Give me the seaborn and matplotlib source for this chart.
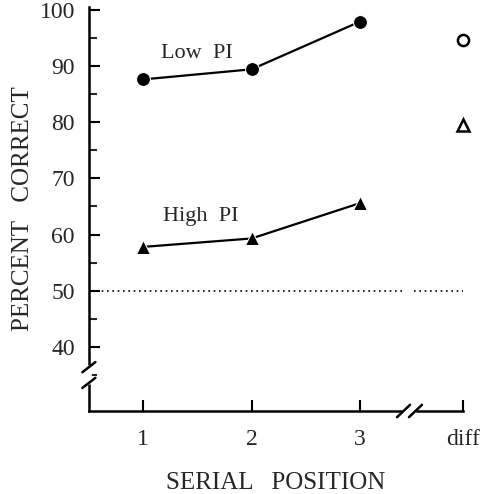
import pandas as pd
import seaborn as sns
import matplotlib.pyplot as plt

# values
positions = [1, 2, 3]
low_pi = [87.6, 89.4, 97.9]
high_pi = [57.8, 59.3, 65.6]
diff_x = 3.95
diff_low = 94.6
diff_high = 79.5
chance = 50
x_ticks = [1, 2, 3, diff_x]
x_labels = ["1", "2", "3", "diff"]
y_ticks = [40, 50, 60, 70, 80, 90, 100]

sns.set_style("ticks")
plt.rcParams['font.family'] = ['Liberation Serif', 'DejaVu Serif']

df = pd.DataFrame({"pos": positions * 2,
                   "pc": low_pi + high_pi,
                   "group": ["Low PI"] * 3 + ["High PI"] * 3})

fig = plt.figure(figsize=(4.83, 4.94), dpi=100)
ax = fig.add_axes([0.184, 0.168, 0.775, 0.818])

sns.lineplot(data=df[df.group == "Low PI"], x="pos", y="pc", color="black",
             marker="o", markersize=10, linewidth=1.6, ax=ax)
sns.lineplot(data=df[df.group == "High PI"], x="pos", y="pc", color="black",
             marker="^", markersize=10, linewidth=1.6, ax=ax)

# open symbols at "diff"
ax.plot([diff_x], [diff_low], marker="o", markersize=8, mfc="white",
        mec="black", mew=1.8, linestyle="none", clip_on=False)
ax.plot([diff_x], [diff_high], marker="^", markersize=8, mfc="white",
        mec="black", mew=1.8, linestyle="none", clip_on=False)

# chance line (broken at the axis break)
ax.plot([0.52, 3.4], [chance, chance], color="black", linestyle=(0, (1, 2.2)), linewidth=1.2)
ax.plot([3.5, diff_x], [chance, chance], color="black", linestyle=(0, (1, 2.2)), linewidth=1.2)

ax.text(1.5, 92.2, "Low  PI", fontsize=16, ha="center", va="center")
ax.text(1.53, 63.2, "High  PI", fontsize=16, ha="center", va="center")

ax.set_xlim(0.5, diff_x)
ax.set_ylim(28.6, 100.5)
ax.set_xticks(x_ticks)
ax.set_xticklabels(x_labels)
ax.set_yticks(y_ticks)
ax.set_yticks(range(35, 100, 5), minor=True)
ax.tick_params(axis="both", which="major", direction="in", length=8, width=1.5,
               labelsize=17, color="black")
ax.tick_params(axis="y", which="minor", direction="in", length=6, width=1.5)
ax.tick_params(axis="y", pad=10)
ax.tick_params(axis="x", pad=13)

ax.set_xlabel("SERIAL   POSITION", fontsize=18, labelpad=16)
ax.set_ylabel("PERCENT   CORRECT", fontsize=18, labelpad=4)

sns.despine(ax=ax)
for s in ["left", "bottom"]:
    ax.spines[s].set_linewidth(1.8)
    ax.spines[s].set_color("black")

# axis breaks
ax.plot([0.5, 0.5], [33.7, 36.2], color="white", linewidth=4, clip_on=False, zorder=5)
for yc in [36.4, 33.6]:
    ax.plot([0.44, 0.56], [yc - 0.9, yc + 0.9], color="black", linewidth=1.8,
            clip_on=False, zorder=6)
ax.plot([3.41, 3.5], [28.6, 28.6], color="white", linewidth=4, clip_on=False, zorder=5)
for xc in [3.40, 3.51]:
    ax.plot([xc - 0.06, xc + 0.06], [28.6 - 1.1, 28.6 + 1.1], color="black",
            linewidth=1.8, clip_on=False, zorder=6)

fig.savefig("out.png", dpi=100)
